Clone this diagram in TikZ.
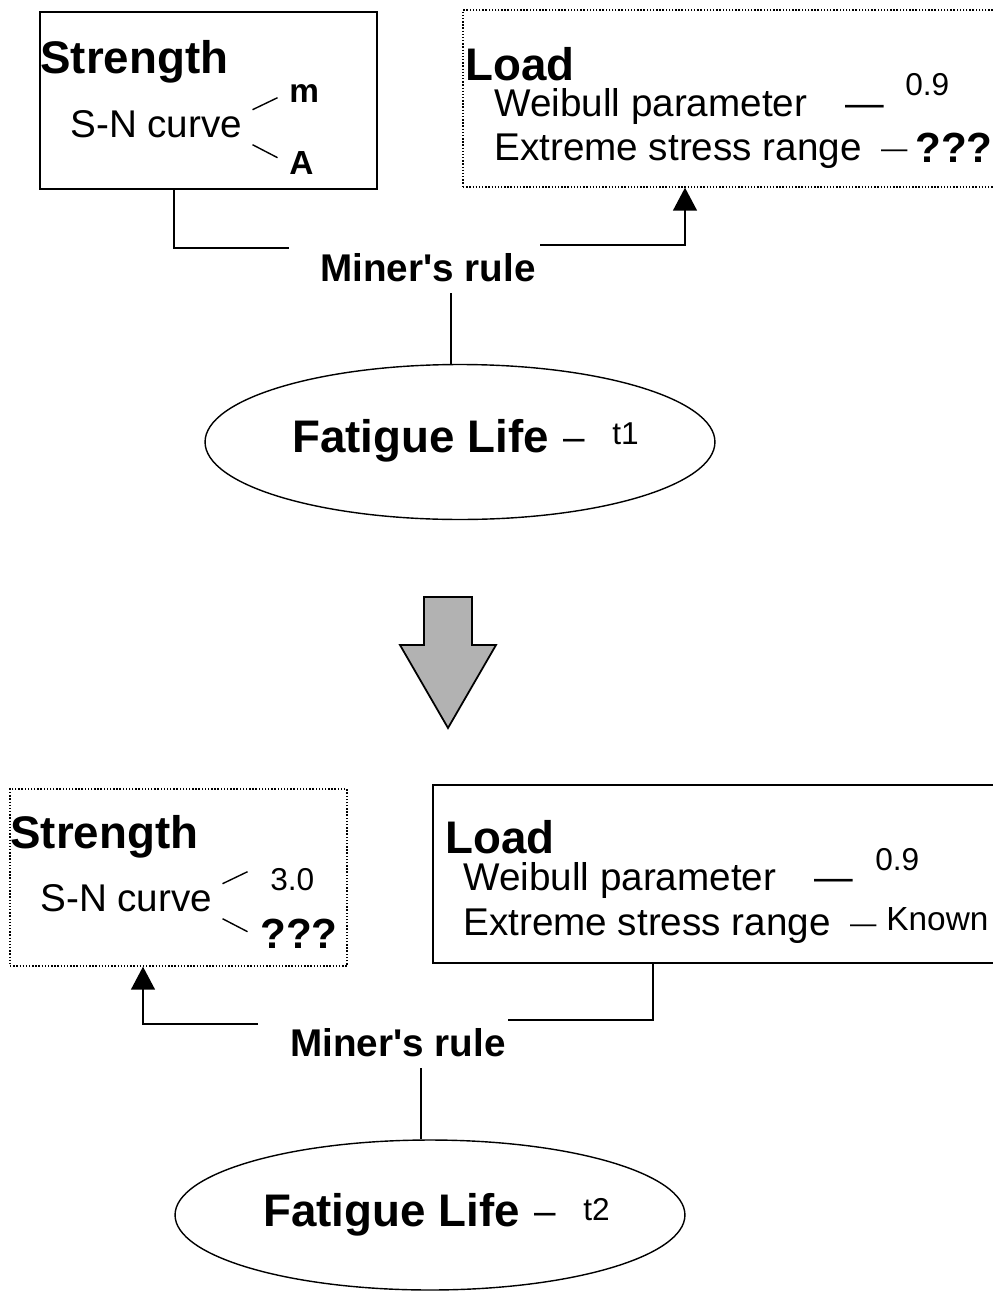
\documentclass[tikz,border=0pt]{standalone}
\usepackage{fontspec}
\setmainfont{Liberation Sans}[Ligatures=TeXOff]
\usetikzlibrary{positioning,shapes.geometric,arrows.meta}

\newcommand{\dsh}{\raisebox{1.5pt}{\fontsize{15}{16}\selectfont —}}

\begin{document}
\begin{tikzpicture}[x=0.02cm, y=-0.02cm,
      frame/.style={draw, line width=0.8pt, minimum width=6.74cm,
                    minimum height=3.54cm, inner sep=0},
      dotframe/.style={frame, densely dotted},
      head/.style={anchor=base west, inner sep=0,
                   font=\fontsize{26}{28}\selectfont\bfseries},
      body/.style={anchor=base west, inner sep=0,
                   font=\fontsize{22}{24}\selectfont},
      val/.style={anchor=base west, inner sep=0,
                  font=\fontsize{18}{20}\selectfont},
      qm/.style={anchor=base west, inner sep=0,
                 font=\fontsize{24}{26}\selectfont\bfseries},
      rule/.style={anchor=base west, inner sep=0,
                   font=\fontsize{22}{24}\selectfont\bfseries},
      life/.style={draw, ellipse, line width=0.8pt, minimum width=10.2cm,
                   minimum height=3.1cm, inner sep=0},
      lnk/.style={line width=0.8pt},
      arr/.style={lnk, -{Triangle[length=0.46cm, width=0.48cm]}}]

    \useasboundingbox (0,0) rectangle (993,1298);

    % before
    \node[frame] (str1) at (208.5,100.5) {};
    \node[head] (strh1) at (40,73) {Strength};
    \node[body] (sn1) at (70,137) {S-N curve};
    \node[val, font=\fontsize{19}{20}\selectfont\bfseries] (m1) at (289,102) {m};
    \node[val, font=\fontsize{19}{20}\selectfont\bfseries] (a1) at (289,174) {A};
    \draw[lnk] (sn1.east) ++(0.2cm,0.28cm) -- ++(0.5cm,0.24cm);
    \draw[lnk] (sn1.east) ++(0.2cm,-0.42cm) -- ++(0.5cm,-0.26cm);

    \node[dotframe, minimum width=10.74cm] (ld1) at (731.5,98.5) {};
    \node[head] (ldh1) at (465,80) {Load};
    \node[body] (wb1) at (494,116) {Weibull parameter\quad —};
    \node[val] (k1) at (905,95) {0.9};
    \node[body] (es1) at (494,160) {Extreme stress range\enspace\dsh};
    \node[qm] (q1) at (915,162) {???};

    \node[rule] (mr1) at (320,281) {Miner's rule};
    \node[life] (fl1) at (460,442) {};
    \node[head] (flt1) at (292,452) {Fatigue Life};
    \node[body] (fd1) at (563,450) {–};
    \node[val] (t1) at (612,444) {t1};

    \coordinate (c1) at (174,248);
    \coordinate (e1) at (289,248);
    \coordinate (e2) at (540,245);
    \coordinate (c2) at (685,245);
    \coordinate (v1) at (451,293);
    \draw[lnk] (str1.south -| c1) -- (c1) -- (e1);
    \draw[arr] (e2) -- (c2) -- (c2 |- ld1.south);
    \draw[lnk] (v1) -- (v1 |- fl1.north);

    % big arrow
    \draw[line width=1pt, fill=gray!60] (424,597) -- (472,597) -- (472,645)
      -- (496,645) -- (448,728) -- (400,645) -- (424,645) -- cycle;

    % after
    \node[dotframe] (str2) at (178.5,877.5) {};
    \node[head] (strh2) at (10,848) {Strength};
    \node[body] (sn2) at (40,911) {S-N curve};
    \node[val] (m2) at (270,890) {3.0};
    \node[qm] (a2) at (260,948) {???};
    \draw[lnk] (sn2.east) ++(0.2cm,0.28cm) -- ++(0.5cm,0.24cm);
    \draw[lnk] (sn2.east) ++(0.2cm,-0.42cm) -- ++(0.5cm,-0.26cm);

    \node[frame, minimum width=11.34cm, minimum height=3.56cm] (ld2) at (716.5,874) {};
    \node[head] (ldh2) at (445,853) {Load};
    \node[body] (wb2) at (463,890) {Weibull parameter\quad —};
    \node[val] (k2) at (875,870) {0.9};
    \node[body] (es2) at (463,935) {Extreme stress range\enspace\dsh};
    \node[val, font=\fontsize{19}{20}\selectfont] (kn2) at (886,930) {Known};

    \node[rule] (mr2) at (290,1056) {Miner's rule};
    \node[life, minimum height=3cm] (fl2) at (430,1215) {};
    \node[head] (flt2) at (263,1226) {Fatigue Life};
    \node[body] (fd2) at (534,1224) {–};
    \node[val] (t2) at (583,1220) {t2};

    \coordinate (c3) at (143,1024);
    \coordinate (e3) at (258,1024);
    \coordinate (c4) at (653,1020);
    \coordinate (e4) at (508,1020);
    \coordinate (v2) at (421,1068);
    \draw[arr] (e3) -- (c3) -- (c3 |- str2.south);
    \draw[lnk] (ld2.south -| c4) -- (c4) -- (e4);
    \draw[lnk] (v2) -- (v2 |- fl2.north);
\end{tikzpicture}
\end{document}
